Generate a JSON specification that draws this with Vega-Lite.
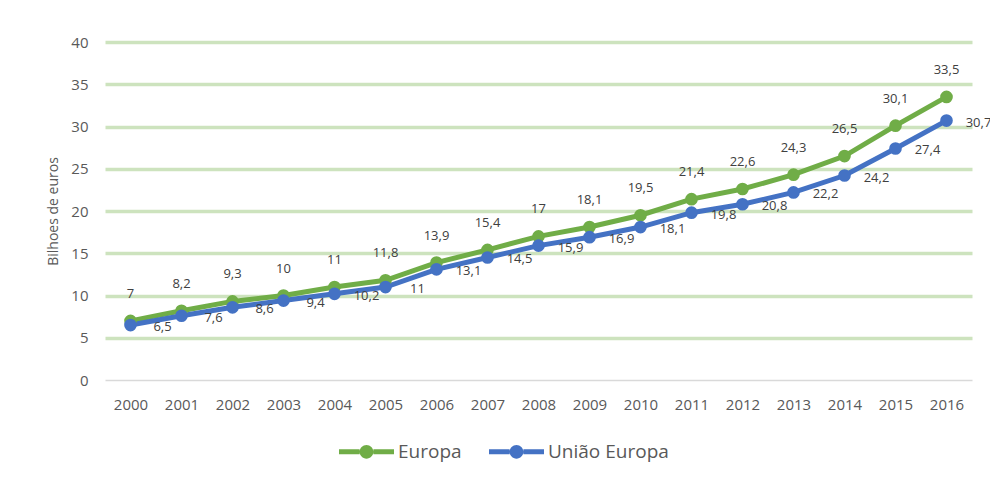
{
  "$schema": "https://vega.github.io/schema/vega-lite/v6.json",
  "autosize": {"type": "none"},
  "width": 867,
  "height": 338,
  "padding": {"left": 105, "top": 42, "right": 18, "bottom": 103},
  "background": "white",
  "config": {
    "locale": {"number": {"decimal": ",", "thousands": ".", "grouping": [3], "currency": ["", " €"]}},
    "font": "Open Sans",
    "view": {"stroke": null}
  },
  "data": {
    "values": [
      {"ano": "2000", "serie": "Europa", "valor": 7},
      {"ano": "2001", "serie": "Europa", "valor": 8.2},
      {"ano": "2002", "serie": "Europa", "valor": 9.3},
      {"ano": "2003", "serie": "Europa", "valor": 10},
      {"ano": "2004", "serie": "Europa", "valor": 11},
      {"ano": "2005", "serie": "Europa", "valor": 11.8},
      {"ano": "2006", "serie": "Europa", "valor": 13.9},
      {"ano": "2007", "serie": "Europa", "valor": 15.4},
      {"ano": "2008", "serie": "Europa", "valor": 17},
      {"ano": "2009", "serie": "Europa", "valor": 18.1},
      {"ano": "2010", "serie": "Europa", "valor": 19.5},
      {"ano": "2011", "serie": "Europa", "valor": 21.4},
      {"ano": "2012", "serie": "Europa", "valor": 22.6},
      {"ano": "2013", "serie": "Europa", "valor": 24.3},
      {"ano": "2014", "serie": "Europa", "valor": 26.5},
      {"ano": "2015", "serie": "Europa", "valor": 30.1},
      {"ano": "2016", "serie": "Europa", "valor": 33.5},
      {"ano": "2000", "serie": "União Europa", "valor": 6.5},
      {"ano": "2001", "serie": "União Europa", "valor": 7.6},
      {"ano": "2002", "serie": "União Europa", "valor": 8.6},
      {"ano": "2003", "serie": "União Europa", "valor": 9.4},
      {"ano": "2004", "serie": "União Europa", "valor": 10.2},
      {"ano": "2005", "serie": "União Europa", "valor": 11},
      {"ano": "2006", "serie": "União Europa", "valor": 13.1},
      {"ano": "2007", "serie": "União Europa", "valor": 14.5},
      {"ano": "2008", "serie": "União Europa", "valor": 15.9},
      {"ano": "2009", "serie": "União Europa", "valor": 16.9},
      {"ano": "2010", "serie": "União Europa", "valor": 18.1},
      {"ano": "2011", "serie": "União Europa", "valor": 19.8},
      {"ano": "2012", "serie": "União Europa", "valor": 20.8},
      {"ano": "2013", "serie": "União Europa", "valor": 22.2},
      {"ano": "2014", "serie": "União Europa", "valor": 24.2},
      {"ano": "2015", "serie": "União Europa", "valor": 27.4},
      {"ano": "2016", "serie": "União Europa", "valor": 30.7}
    ]
  },
  "encoding": {
    "x": {
      "field": "ano", "type": "ordinal",
      "scale": {"type": "point", "padding": 0.5},
      "axis": {
        "title": null, "labelAngle": 0, "ticks": false,
        "domain": true, "domainColor": "#D9D9D9", "domainWidth": 1.5,
        "labelFontSize": 15, "labelColor": "#595959", "labelPadding": 17,
        "grid": false
      }
    },
    "y": {
      "field": "valor", "type": "quantitative",
      "scale": {"domain": [0, 40]},
      "axis": {
        "title": "Bilhoes de euros", "titleFontSize": 14, "titleFontWeight": "normal",
        "titleColor": "#595959", "titlePadding": 10,
        "values": [0, 5, 10, 15, 20, 25, 30, 35, 40],
        "ticks": false, "domain": false,
        "labelFontSize": 15, "labelColor": "#595959", "labelPadding": 17,
        "grid": true,
        "gridColor": {"condition": {"test": "datum.value === 0", "value": "transparent"}, "value": "#CDE3BE"},
        "gridWidth": 3.5
      }
    }
  },
  "layer": [
    {
      "mark": {"type": "line", "strokeWidth": 5},
      "encoding": {
        "color": {
          "field": "serie", "type": "nominal",
          "scale": {"domain": ["Europa", "União Europa"], "range": ["#70AD47", "#4472C4"]},
          "legend": {
            "title": null, "orient": "none", "direction": "horizontal",
            "legendX": 234, "legendY": 382,
            "symbolType": "M-1,-0.09H-0.25V0.09H-1Z M0.25,-0.09H1V0.09H0.25Z M0.25,0A0.25,0.25 0 1,0 -0.25,0A0.25,0.25 0 1,0 0.25,0Z",
            "symbolSize": 3025,
            "symbolStrokeWidth": 0,
            "labelFontSize": 19, "labelColor": "#595959", "labelOffset": 4,
            "columnPadding": 27, "padding": 0,
            "encode": {"symbols": {"update": {"fill": {"scale": "color", "field": "value"}, "strokeWidth": {"value": 0}}}}
          }
        }
      }
    },
    {
      "mark": {"type": "point", "filled": true, "size": 160, "opacity": 1},
      "encoding": {"color": {"field": "serie", "type": "nominal", "legend": null}}
    },
    {
      "transform": [{"filter": "datum.serie === 'Europa'"}],
      "mark": {"type": "text", "dy": -27, "fontSize": 13, "color": "#404040"},
      "encoding": {"text": {"field": "valor", "type": "quantitative", "format": "~g"}}
    },
    {
      "transform": [{"filter": "datum.serie === 'União Europa'"}],
      "mark": {"type": "text", "dx": 32, "dy": 2, "fontSize": 13, "color": "#404040"},
      "encoding": {"text": {"field": "valor", "type": "quantitative", "format": "~g"}}
    }
  ]
}
